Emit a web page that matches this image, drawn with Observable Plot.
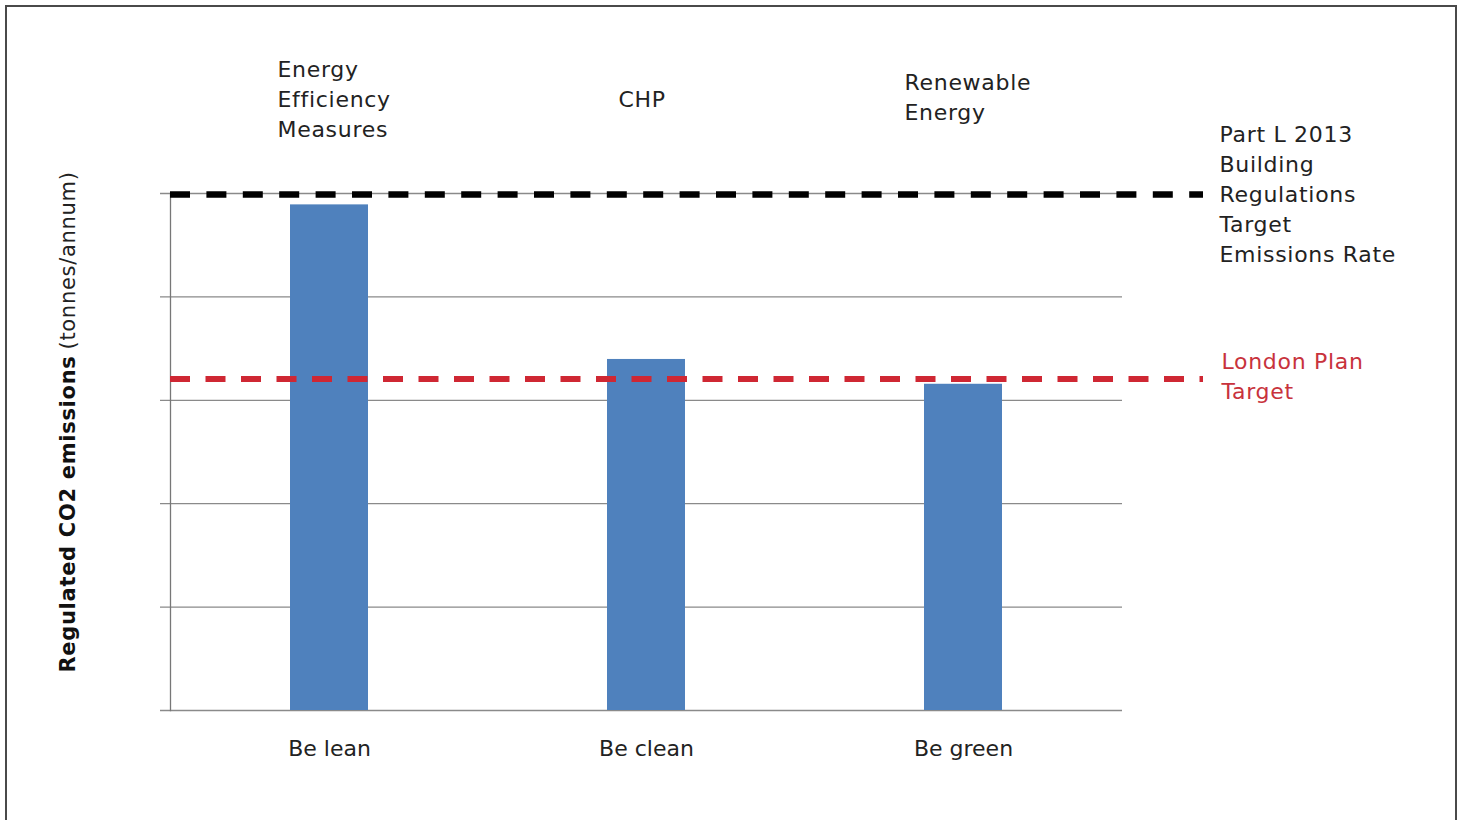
<!DOCTYPE html>
<html>
<head>
<meta charset="utf-8">
<script src="https://cdn.jsdelivr.net/npm/d3@7"></script>
<script src="https://cdn.jsdelivr.net/npm/@observablehq/plot@0.6"></script>
<style>
  html, body { margin: 0; padding: 0; background: #fff; overflow: hidden; }
  #wrap { position: relative; width: 1467px; height: 820px; }
  #border { position: absolute; left: 5px; top: 5px; width: 1452px; height: 840px; border: 2px solid #4a4a4a; box-sizing: border-box; pointer-events: none; }
  #chart svg { display: block; }
  #chart g[aria-label="text"] text { letter-spacing: 0.7px; }
</style>
</head>
<body>
<div id="wrap">
  <div id="chart"></div>
  <div id="border"></div>
</div>
<script>
// ---- data ----
const categories = ["Be lean", "Be clean", "Be green"];
const emissions = [97.8, 67.9, 63.1];
const measureLabels = ["Energy\nEfficiency\nMeasures", "CHP", "Renewable\nEnergy"];
const yTicks = [0, 20, 40, 60, 80, 100];
const buildingRegsTarget = 100;
const londonPlanTarget = 64.1;
const buildingRegsLabel = "Part L 2013\nBuilding\nRegulations\nTarget\nEmissions Rate";
const londonPlanLabel = "London Plan\nTarget";
const yLabelBold = "Regulated CO2 emissions";
const yLabelUnits = "(tonnes/annum)";

const rows = categories.map((c, i) => ({category: c, emissions: emissions[i], measure: measureLabels[i]}));

const font = "DejaVu Sans";
const fs = 22;
const lh = 30 / fs;
const measureDx = [-52, -28, -59];
const measureDy = [-96, -96, -98];

const chart = Plot.plot({
  width: 1467,
  height: 820,
  marginLeft: 170,
  marginRight: 345,
  marginTop: 193,
  marginBottom: 110,
  style: {fontFamily: font, color: "#222", background: "transparent", overflow: "visible"},
  x: {domain: categories, paddingInner: 0.753, paddingOuter: 0.3765, label: null},
  y: {domain: [0, 100], axis: null, label: null},
  marks: [
    Plot.ruleY(yTicks, {stroke: "#8a8a8a", strokeWidth: 1.3, insetLeft: -10}),
    Plot.frame({anchor: "left", stroke: "#777", strokeWidth: 1.3}),
    Plot.barY(rows, {x: "category", y: "emissions", fill: "#4f81bd"}),
    Plot.ruleY([buildingRegsTarget], {stroke: "#000", strokeWidth: 6.5, strokeDasharray: "20,16.4", insetRight: -81, dy: 1}),
    Plot.ruleY([londonPlanTarget], {stroke: "#cf2733", strokeWidth: 6, strokeDasharray: "20,15.5", insetRight: -81}),
    Plot.axisX({tickSize: 0, tickPadding: 30, fontSize: 22, fill: "#222", label: null}),
    ...rows.map((r, i) => Plot.text([r], {
      x: "category", text: "measure", frameAnchor: "top",
      dx: measureDx[i], dy: measureDy[i],
      textAnchor: "start", lineAnchor: "middle", lineHeight: lh,
      fontSize: fs, fill: "#222"
    })),
    Plot.text([{value: buildingRegsTarget, label: buildingRegsLabel}], {
      y: "value", text: "label", frameAnchor: "right", dx: 97, dy: -1,
      textAnchor: "start", lineAnchor: "middle", lineHeight: lh, fontSize: fs, fill: "#222"
    }),
    Plot.text([{value: londonPlanTarget, label: londonPlanLabel}], {
      y: "value", text: "label", frameAnchor: "right", dx: 99, dy: -5,
      textAnchor: "start", lineAnchor: "middle", lineHeight: lh, fontSize: fs, fill: "#c8323c"
    }),
    Plot.text([yLabelBold], {
      frameAnchor: "top-left", dx: -102, dy: 162, rotate: -90,
      textAnchor: "end", lineAnchor: "middle", fontSize: 21, fontWeight: "bold", fill: "#111"
    }),
    Plot.text([yLabelUnits], {
      frameAnchor: "top-left", dx: -102, dy: 156, rotate: -90,
      textAnchor: "start", lineAnchor: "middle", fontSize: 21, fill: "#222"
    })
  ]
});
document.getElementById("chart").appendChild(chart);
</script>
</body>
</html>
